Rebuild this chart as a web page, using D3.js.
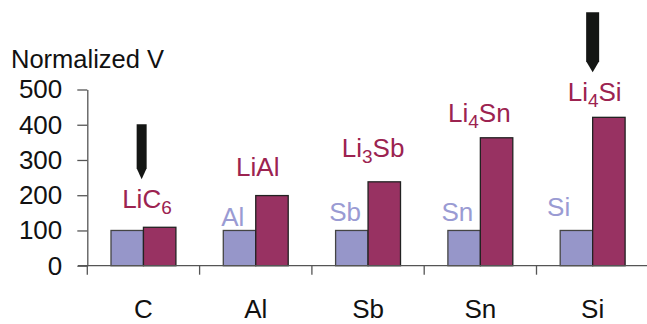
<!DOCTYPE html>
<html>
<head>
<meta charset="utf-8">
<script src="https://cdn.jsdelivr.net/npm/d3@7"></script>
<style>
  html, body { margin: 0; padding: 0; background: #fff; }
  svg { display: block; font-family: "Liberation Sans", Arial, Helvetica, sans-serif; }
</style>
</head>
<body>
<svg id="chart" width="647" height="324"></svg>
<script>
// ---- data ----
const categories = ["C", "Al", "Sb", "Sn", "Si"];
const metalValues = [100, 100, 100, 100, 100];
const lithiatedValues = [109, 199, 238, 363, 421];
const metalLabels = [null, "Al", "Sb", "Sn", "Si"];
// lithiated labels: [main, subscript, rest]
const lithiatedLabels = [["LiC", "6", ""], ["LiAl", "", ""], ["Li", "3", "Sb"], ["Li", "4", "Sn"], ["Li", "4", "Si"]];
const yTicks = [0, 100, 200, 300, 400, 500];
const arrowCategories = ["C", "Si"];
const yTitle = "Normalized V";

// ---- layout (label placement tweaks, in px) ----
const lithLabelGap = [19, 20, 25, 16, 16];
const lithLabelDx = [3.5, 2, 5, -1, 2];
const metalLabelGap = [0, 4, 9, 9, 14.5];
const metalLabelDx = [0, -23, -23, -23, -34];

// ---- styles ----
const blueFill = "#9696c9";
const redFill = "#983262";
const blueText = "#9a9bd3";
const redText = "#9c2350";
const axisColor = "#555";

const svg = d3.select("#chart");

const x = d3.scaleBand().domain(categories).range([87.3, 648.8]).padding(0);
const xs = d3.scaleBand().domain(["metal", "lith"]).range([0, x.bandwidth()])
  .paddingInner(0).paddingOuter(0.73);
const y = d3.scaleLinear().domain([0, 500]).range([265.7, 89.5]);

// title
svg.append("text").attr("x", 11).attr("y", 68.3)
  .attr("font-size", 25.5).attr("fill", "#111").text(yTitle);

// y axis
const yAxis = svg.append("g").attr("transform", `translate(${x.range()[0]},0)`)
  .call(d3.axisLeft(y).tickValues(yTicks).tickSize(10).tickPadding(15).tickSizeOuter(0));
yAxis.select(".domain").attr("stroke", axisColor).attr("stroke-width", 1.3);
yAxis.selectAll(".tick line").attr("stroke", axisColor).attr("stroke-width", 1.3);
yAxis.selectAll(".tick text").attr("font-size", 26).attr("fill", "#111")
  .attr("font-family", "Liberation Sans, Arial, sans-serif");

// bars
const data = categories.map((c, i) => ({ c, i, m: metalValues[i], l: lithiatedValues[i], ml: metalLabels[i], ll: lithiatedLabels[i] }));
const g = svg.append("g");
g.selectAll("rect.metal").data(data).join("rect").attr("class", "metal")
  .attr("x", d => x(d.c) + xs("metal")).attr("width", xs.bandwidth())
  .attr("y", d => y(d.m)).attr("height", d => y(0) - y(d.m))
  .attr("fill", blueFill).attr("stroke", "#444").attr("stroke-width", 1.3);
g.selectAll("rect.lith").data(data).join("rect").attr("class", "lith")
  .attr("x", d => x(d.c) + xs("lith")).attr("width", xs.bandwidth())
  .attr("y", d => y(d.l)).attr("height", d => y(0) - y(d.l))
  .attr("fill", redFill).attr("stroke", "#222").attr("stroke-width", 1.3);

// x axis line and boundary ticks
svg.append("line").attr("x1", 78).attr("x2", 647).attr("y1", y(0)).attr("y2", y(0))
  .attr("stroke", axisColor).attr("stroke-width", 1.3);
svg.selectAll("line.xtick").data(categories).join("line").attr("class", "xtick")
  .attr("x1", d => x(d)).attr("x2", d => x(d))
  .attr("y1", y(0)).attr("y2", y(0) + 9)
  .attr("stroke", axisColor).attr("stroke-width", 1.3);
svg.selectAll("text.xlab").data(categories).join("text").attr("class", "xlab")
  .attr("x", d => x(d) + x.bandwidth() / 2).attr("y", 318)
  .attr("text-anchor", "middle").attr("font-size", 26).attr("fill", "#111").text(d => d);

// metal labels
svg.selectAll("text.mlab").data(data.filter(d => d.ml)).join("text").attr("class", "mlab")
  .attr("x", d => x(d.c) + x.bandwidth() / 2 + metalLabelDx[d.i]).attr("y", d => y(d.m) - metalLabelGap[d.i])
  .attr("text-anchor", "middle").attr("font-size", 26).attr("fill", blueText).text(d => d.ml);

// lithiated labels
const labelBase = d => y(d.l) - lithLabelGap[d.i];
const ll = svg.selectAll("text.llab").data(data).join("text").attr("class", "llab")
  .attr("x", d => x(d.c) + x.bandwidth() / 2 + lithLabelDx[d.i]).attr("y", labelBase)
  .attr("text-anchor", "middle").attr("font-size", 26).attr("fill", redText);
ll.each(function (d) {
  const t = d3.select(this);
  t.append("tspan").text(d.ll[0]);
  if (d.ll[1]) t.append("tspan").attr("font-size", 19).attr("dy", 6).text(d.ll[1]);
  if (d.ll[2]) t.append("tspan").attr("dy", -6).text(d.ll[2]);
});

// arrows
const arrowData = data.filter(d => arrowCategories.includes(d.c));
svg.selectAll("path.arrow").data(arrowData).join("path").attr("class", "arrow")
  .attr("d", d => {
    const cx = x(d.c) + x.bandwidth() / 2 + (d.c === "C" ? -1.8 : 0);
    const tip = labelBase(d) - 29;
    const w = d.c === "C" ? 5 : 6.5;
    const len = d.c === "C" ? 55 : 60;
    const head = 11;
    return `M${cx - w},${tip - len} L${cx + w},${tip - len} L${cx + w},${tip - head} L${cx},${tip} L${cx - w},${tip - head} Z`;
  })
  .attr("fill", "#141614");
</script>
</body>
</html>
